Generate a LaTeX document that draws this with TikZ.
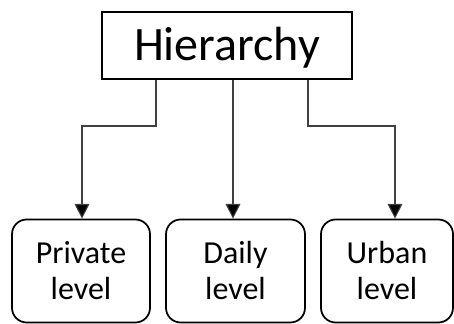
\documentclass[tikz,border=0pt]{standalone}
\usepackage{fontspec}
\setmainfont{Carlito}
\usetikzlibrary{arrows.meta}
\begin{document}
\begin{tikzpicture}[x=0.75pt,y=-0.75pt,
  headbox/.style={draw, line width=1.5pt, minimum width=187.5pt, minimum height=50.25pt,
    inner sep=0pt, text height=23.2pt, text depth=0pt, font=\fontsize{36}{42}\selectfont},
  levelbox/.style={draw, line width=1.3pt, rounded corners=11pt, minimum height=77.25pt,
    inner sep=0pt, align=center, font=\fontsize{24}{27}\selectfont},
  conn/.style={draw=black!75, line width=0.8pt, -{Triangle[width=11pt,length=11pt,fill=black]}}]
  \useasboundingbox (0,0) rectangle (454,324);

  \node[headbox] (top) at (227,45.5) {Hierarchy};

  \node[levelbox, minimum width=103.5pt] (p) at (81,271) {Private\\level};
  \node[levelbox, minimum width=104.25pt] (d) at (235.5,271) {Daily\\level};
  \node[levelbox, minimum width=99pt] (u) at (387,271) {Urban\\level};

  \draw[conn] ([xshift=-53.25pt]top.south) -- ++(0,46) -| ([xshift=0.75pt]p.north);
  \draw[conn] ([xshift=4.5pt]top.south) -- ([xshift=4.5pt]top.south |- d.north);
  \draw[conn] ([xshift=60.75pt]top.south) -- ++(0,46) -| ([xshift=6pt]u.north);
\end{tikzpicture}
\end{document}
